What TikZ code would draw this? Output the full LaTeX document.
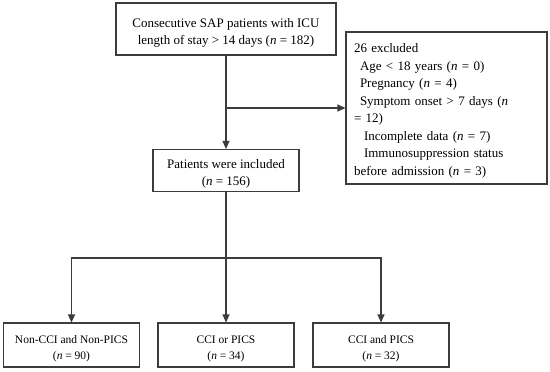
\documentclass[tikz,border=0pt]{standalone}
\usepackage{fontspec}
\setmainfont{Liberation Serif}
\usepackage{tikz}
\usetikzlibrary{positioning,arrows.meta,calc}
\definecolor{linea}{HTML}{3C3C3C}
\newcommand{\alto}[1]{\rule{0pt}{#1pt}}

\begin{document}
\begin{tikzpicture}[x=1pt,y=-1pt,
    caja/.style={draw=linea,line width=1.1pt,align=center,inner sep=0pt,
      font=\fontsize{13}{17.5}\selectfont},
    cajita/.style={caja,minimum width=136pt,minimum height=44pt,
      font=\fontsize{11.5}{16}\selectfont},
    flecha/.style={-{Triangle[length=8pt,width=7pt]},linea,line width=1.2pt}]
    \useasboundingbox (0,0) rectangle (550,372);
    \node[caja,minimum width=220pt,minimum height=52pt] (screen) at (226,29)
      {\alto{17}Consecutive SAP patients with ICU\\length of stay > 14 days (\textit{n} = 182)};
    \node[caja,minimum width=201pt,minimum height=152pt,text width=185pt,align=left,inner xsep=8pt] (excl) at (446.5,108)
      {\alto{15}26 excluded\\
       \hspace*{6pt}Age < 18 years (\textit{n} = 0)\\
       \hspace*{6pt}Pregnancy (\textit{n} = 4)\\
       \hspace*{6pt}Symptom onset > 7 days (\textit{n}\\
       = 12)\\
       \hspace*{10pt}Incomplete data (\textit{n} = 7)\\
       \hspace*{10pt}Immunosuppression status\\
       before admission (\textit{n} = 3)};
    \node[caja,minimum width=146pt,minimum height=42pt] (incl) at (226,170.5)
      {\alto{16}Patients were included\\(\textit{n} = 156)};
    \node[cajita] (g1) at (71.5,345) {\alto{15}Non-CCI and Non-PICS\\(\textit{n} = 90)};
    \node[cajita] (g2) at (226,345) {\alto{15}CCI or PICS\\(\textit{n} = 34)};
    \node[cajita] (g3) at (381,345) {\alto{15}CCI and PICS\\(\textit{n} = 32)};
    % main flow
    \draw[flecha] (screen) -- (incl);
    \coordinate (rama) at (screen.south |- excl.west);
    \draw[flecha] (rama) -- (excl.west);
    % split into three groups
    \coordinate (reparto) at ($(incl.south)+(0,66)$);
    \draw[linea,line width=1.2pt] (incl.south) -- (reparto);
    \draw[flecha] (reparto) -| (g1.north);
    \draw[flecha] (reparto) -- (g2.north);
    \draw[flecha] (reparto) -| (g3.north);
  \end{tikzpicture}
\end{document}
